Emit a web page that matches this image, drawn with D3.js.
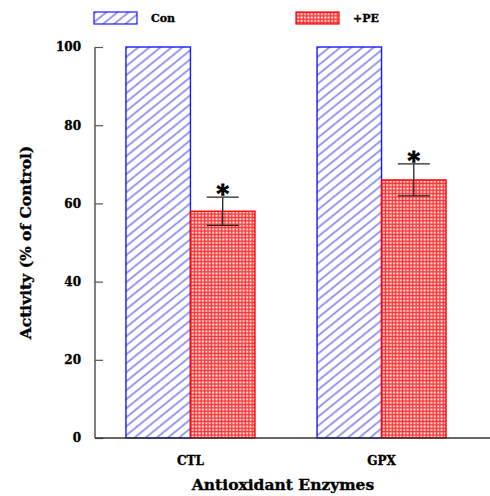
<!DOCTYPE html>
<html>
<head>
<meta charset="utf-8">
<script src="https://cdn.jsdelivr.net/npm/d3@7"></script>
<style>
  body { margin: 0; background: #fff; }
  text { font-family: "DejaVu Serif", serif; font-weight: bold; stroke: #000; stroke-width: 0.35px; }
</style>
</head>
<body>
<svg id="chart" width="490" height="496"></svg>
<script>
var categories = ["CTL", "GPX"];
var seriesNames = ["Con", "+PE"];
var conValues = [100, 100];
var peValues = [58, 66];
var peErrors = [3.6, 4.1];
var yTicks = [0, 20, 40, 60, 80, 100];

var margin = { top: 47, right: 0, bottom: 58, left: 95 },
    width = 490 - margin.left - margin.right,
    height = 496 - margin.top - margin.bottom;

var svg = d3.select("#chart");

// patterns
var defs = svg.append("defs");
var hatch = defs.append("pattern")
    .attr("id", "hatch")
    .attr("patternUnits", "userSpaceOnUse")
    .attr("width", 7).attr("height", 7)
    .attr("patternTransform", "rotate(51)");
hatch.append("rect").attr("width", 7).attr("height", 7).attr("fill", "#fff");
hatch.append("line")
    .attr("x1", 1).attr("y1", 0).attr("x2", 1).attr("y2", 7)
    .attr("stroke", "#6464f2").attr("stroke-width", 1.3);

var cross = defs.append("pattern")
    .attr("id", "cross")
    .attr("patternUnits", "userSpaceOnUse")
    .attr("width", 3.4).attr("height", 3.4);
cross.append("rect").attr("width", 3.4).attr("height", 3.4).attr("fill", "#ff3030");
cross.append("rect").attr("x", 1.2).attr("y", 1.2).attr("width", 1.9).attr("height", 1.9).attr("fill", "#fff");

var fills = ["url(#hatch)", "url(#cross)"];
var strokes = ["#1a1aff", "#ff0000"];

var g = svg.append("g")
    .attr("transform", "translate(" + margin.left + "," + margin.top + ")");

var x = d3.scaleBand()
    .domain(categories)
    .range([0, 382])
    .paddingInner(0.325)
    .paddingOuter(0.162);

var xSub = d3.scaleBand()
    .domain(seriesNames)
    .range([0, x.bandwidth()]);

var y = d3.scaleLinear()
    .domain([0, 100])
    .range([height, 0]);

var table = categories.map(function (c, i) {
    return { cat: c, vals: [
        { s: "Con", v: conValues[i], e: 0, k: 0 },
        { s: "+PE", v: peValues[i], e: peErrors[i], k: 1 }
    ] };
});

var groups = g.selectAll(".grp")
    .data(table)
    .join("g")
    .attr("class", "grp")
    .attr("transform", function (d) { return "translate(" + x(d.cat) + ",0)"; });

groups.selectAll("rect")
    .data(function (d) { return d.vals; })
    .join("rect")
    .attr("x", function (d) { return xSub(d.s); })
    .attr("y", function (d) { return y(d.v); })
    .attr("width", xSub.bandwidth())
    .attr("height", function (d) { return y(0) - y(d.v); })
    .attr("fill", function (d) { return fills[d.k]; })
    .attr("stroke", function (d) { return strokes[d.k]; })
    .attr("stroke-width", 1.4);

// error bars
var errs = groups.selectAll(".err")
    .data(function (d) { return d.vals.filter(function (v) { return v.e > 0; }); })
    .join("g")
    .attr("class", "err")
    .attr("transform", function (d) { return "translate(" + (xSub(d.s) + xSub.bandwidth() / 2) + ",0)"; });

errs.append("line")
    .attr("x1", 0).attr("x2", 0)
    .attr("y1", function (d) { return y(d.v + d.e); })
    .attr("y2", function (d) { return y(d.v - d.e); })
    .attr("stroke", "#222").attr("stroke-width", 1.3);
errs.selectAll(".cap")
    .data(function (d) { return [d.v + d.e, d.v - d.e]; })
    .join("line")
    .attr("class", "cap")
    .attr("x1", -16).attr("x2", 16)
    .attr("y1", function (d) { return y(d); })
    .attr("y2", function (d) { return y(d); })
    .attr("stroke", "#222").attr("stroke-width", 1.3);
errs.append("text")
    .attr("x", 0)
    .attr("y", function (d) { return y(d.v + d.e) + 5; })
    .attr("text-anchor", "middle")
    .style("font-size", "24px")
    .style("stroke-width", "1px")
    .text("*");

// axes
var yAxis = g.append("g")
    .call(d3.axisRight(y).tickValues(yTicks).tickSize(8).tickFormat(d3.format("d")));
yAxis.select(".domain").attr("d", "M0,0V" + height).attr("stroke", "#555").attr("stroke-width", 1.5);
yAxis.selectAll(".tick line").attr("stroke", "#555").attr("stroke-width", 1.2);
yAxis.selectAll(".tick text")
    .attr("x", -14)
    .attr("text-anchor", "end")
    .style("font-size", "12px")
    .attr("fill", "#000");

g.append("line")
    .attr("x1", 0).attr("x2", width)
    .attr("y1", height).attr("y2", height)
    .attr("stroke", "#333").attr("stroke-width", 1.5);

g.selectAll(".xlab")
    .data(categories)
    .join("text")
    .attr("class", "xlab")
    .attr("x", function (d) { return x(d) + x.bandwidth() / 2; })
    .attr("y", height + 27)
    .attr("text-anchor", "middle")
    .style("font-size", "12px")
    .text(function (d) { return d; });

svg.append("text")
    .attr("x", 283)
    .attr("y", 490)
    .attr("text-anchor", "middle")
    .style("font-size", "15.5px")
    .text("Antioxidant Enzymes");

svg.append("text")
    .attr("transform", "translate(31," + (margin.top + height / 2 + 0) + ") rotate(-90)")
    .attr("text-anchor", "middle")
    .style("font-size", "15.5px")
    .text("Activity (% of Control)");

// legend
var legX = [94, 296];
var leg = svg.selectAll(".leg")
    .data(seriesNames)
    .join("g")
    .attr("class", "leg")
    .attr("transform", function (d, i) { return "translate(" + legX[i] + ",12)"; });
leg.append("rect")
    .attr("width", 43).attr("height", 12)
    .attr("fill", function (d, i) { return fills[i]; })
    .attr("stroke", function (d, i) { return strokes[i]; })
    .attr("stroke-width", 1.2);
leg.append("text")
    .attr("x", 57).attr("y", 10)
    .style("font-size", "11px")
    .text(function (d) { return d; });
</script>
</body>
</html>
